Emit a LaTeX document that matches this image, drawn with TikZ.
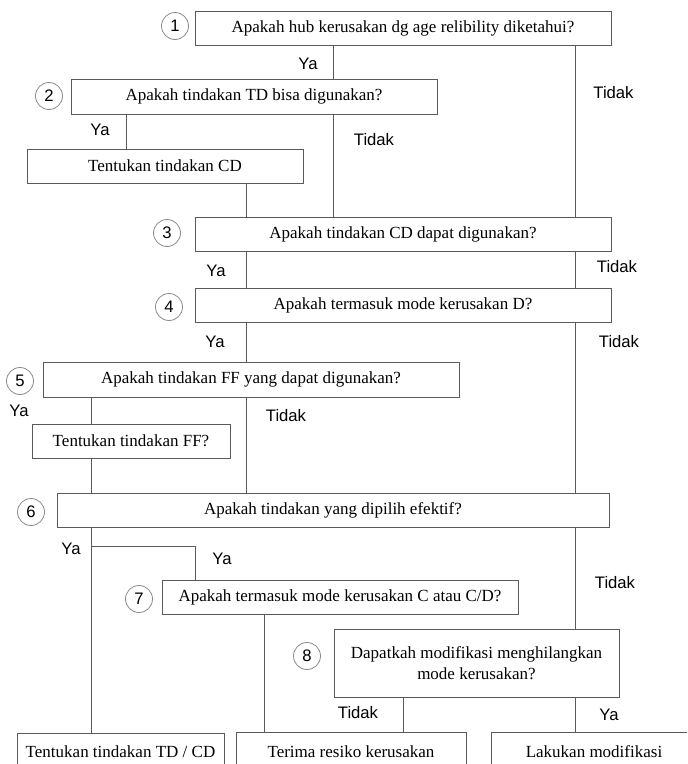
\documentclass[tikz,border=0pt]{standalone}
\usepackage{fontspec}
\setmainfont{Liberation Serif}
\newfontfamily\lsans{Liberation Sans}
\definecolor{linec}{HTML}{5A5A5A}
\definecolor{circc}{HTML}{8A8A8A}
% box from corner (x1,y1) to (x2,y2), in pixels
\newcommand\flowboxat[6]{%
  \node[flowbox,minimum width={0.75*(#4-#2)},minimum height={0.75*(#5-#3)}]
    (#1) at ({(#2+#4)/2},{(#3+#5)/2}) {#6};}
\begin{document}
\begin{tikzpicture}[x=0.75pt,y=-0.75pt,
  flowbox/.style={draw=linec,line width=0.7pt,inner sep=0pt,align=center,
    font=\fontsize{12.75}{15.2}\selectfont,text=black},
  numcirc/.style={circle,draw=circc,line width=0.6pt,minimum size=20.25pt,inner sep=0pt,
    font=\lsans\fontsize{12.5}{14}\selectfont},
  brlabel/.style={font=\lsans\fontsize{12.5}{14}\selectfont,inner sep=0pt},
  conn/.style={draw=linec,line width=0.7pt}]
\useasboundingbox (0,0) rectangle (687,764);
\clip (0,0) rectangle (687,764);

% boxes
\flowboxat{b1}{195}{11}{611}{45}{Apakah hub kerusakan dg age relibility diketahui?}
\flowboxat{b2}{71}{79}{437}{114}{Apakah tindakan TD bisa digunakan?}
\flowboxat{bcd}{27}{149}{303}{183}{Tentukan tindakan CD}
\flowboxat{b3}{195}{217}{611}{251}{Apakah tindakan CD dapat digunakan?}
\flowboxat{b4}{195}{288}{611}{322}{Apakah termasuk mode kerusakan D?}
\flowboxat{b5}{43}{362}{459}{397}{Apakah tindakan FF yang dapat digunakan?}
\flowboxat{bff}{32}{424}{230}{458}{Tentukan tindakan FF?}
\flowboxat{b6}{57}{493}{609}{527}{Apakah tindakan yang dipilih efektif?}
\flowboxat{b7}{162}{580}{518}{614}{Apakah termasuk mode kerusakan C atau C/D?}
\flowboxat{b8}{334}{629}{619}{697}{Dapatkah modifikasi menghilangkan\\mode kerusakan?}
\flowboxat{btd}{17}{733}{224}{771}{Tentukan tindakan TD / CD}
\flowboxat{btr}{236}{732}{466}{771}{Terima resiko kerusakan}
\flowboxat{blm}{491}{732}{697}{771}{Lakukan modifikasi}

% numbered circles
\node[numcirc] (c1) at (175,26) {1};
\node[numcirc] (c2) at (49,96) {2};
\node[numcirc] (c3) at (167,233) {3};
\node[numcirc] (c4) at (169,307) {4};
\node[numcirc] (c5) at (20,381) {5};
\node[numcirc] (c6) at (31,512) {6};
\node[numcirc] (c7) at (139,599) {7};
\node[numcirc] (c8) at (307,656) {8};

% x positions of vertical connectors
\coordinate (xA) at (333.3,0);
\coordinate (xB) at (575.5,0);
\coordinate (xC) at (126,0);
\coordinate (xD) at (246.7,0);
\coordinate (xE) at (91.7,0);
\coordinate (xF) at (195.7,0);
\coordinate (xG) at (264.3,0);
\coordinate (xH) at (403.3,0);
\coordinate (br) at (91.7,546);

% connectors
\draw[conn] (b1.south -| xA) -- (b2.north -| xA);
\draw[conn] (b2.south -| xA) -- (b3.north -| xA);
\draw[conn] (b1.south -| xB) -- (b3.north -| xB);
\draw[conn] (b2.south -| xC) -- (bcd.north -| xC);
\draw[conn] (bcd.south -| xD) -- (b3.north -| xD);
\draw[conn] (b3.south -| xD) -- (b4.north -| xD);
\draw[conn] (b3.south -| xB) -- (b4.north -| xB);
\draw[conn] (b4.south -| xD) -- (b5.north -| xD);
\draw[conn] (b4.south -| xB) -- (b6.north -| xB);
\draw[conn] (b5.south -| xE) -- (bff.north -| xE);
\draw[conn] (bff.south -| xE) -- (b6.north -| xE);
\draw[conn] (b5.south -| xD) -- (b6.north -| xD);
\draw[conn] (b6.south -| xE) -- (btd.north -| xE);
\draw[conn] (br) -| (b7.north -| xF);
\draw[conn] (b6.south -| xB) -- (b8.north -| xB);
\draw[conn] (b7.south -| xG) -- (btr.north -| xG);
\draw[conn] (b8.south -| xH) -- (btr.north -| xH);
\draw[conn] (b8.south -| xB) -- (blm.north -| xB);

% branch labels
\node[brlabel] (l1) at (308,64) {Ya};
\node[brlabel] (l2) at (613.5,93) {Tidak};
\node[brlabel] (l3) at (100,130) {Ya};
\node[brlabel] (l4) at (374,140) {Tidak};
\node[brlabel] (l5) at (216,271) {Ya};
\node[brlabel] (l6) at (617,267) {Tidak};
\node[brlabel] (l7) at (215,342) {Ya};
\node[brlabel] (l8) at (619,342) {Tidak};
\node[brlabel] (l9) at (19,411) {Ya};
\node[brlabel] (l10) at (286,416) {Tidak};
\node[brlabel] (l11) at (71,549) {Ya};
\node[brlabel] (l12) at (222,559) {Ya};
\node[brlabel] (l13) at (615,583) {Tidak};
\node[brlabel] (l14) at (358,713) {Tidak};
\node[brlabel] (l15) at (609,715) {Ya};
\end{tikzpicture}
\end{document}
